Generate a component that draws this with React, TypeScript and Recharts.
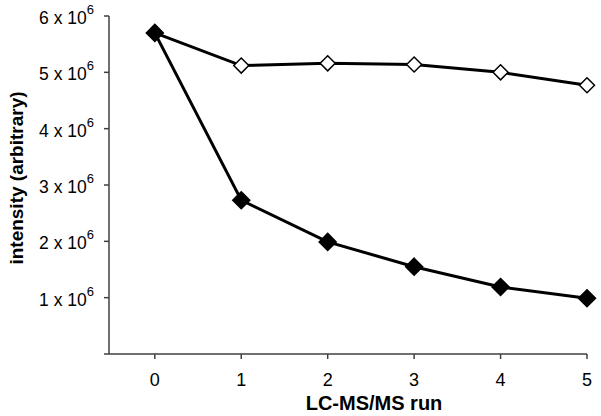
import React from "react";
import { LineChart, Line, XAxis, YAxis } from "recharts";

const runs = [0, 1, 2, 3, 4, 5];
const filledSeries = [5.7, 2.73, 1.99, 1.55, 1.19, 0.99];
const openSeries = [5.7, 5.12, 5.16, 5.14, 5.0, 4.77];
const yTicks = [0, 1, 2, 3, 4, 5, 6];

const data = runs.map((r, i) => ({ run: r, filled: filledSeries[i], open: openSeries[i] }));

const FONT = "'Liberation Sans', Arial, sans-serif";

const Diamond = (fill: string, r: number) => (props: any) => {
  const { cx, cy, index } = props;
  if (cx == null || cy == null) return <g key={index} />;
  return (
    <path
      key={index}
      d={`M${cx},${cy - r} L${cx + r},${cy} L${cx},${cy + r} L${cx - r},${cy} Z`}
      fill={fill}
      stroke="#000"
      strokeWidth={1.5}
    />
  );
};

const YTick = (props: any) => {
  const { x, y, payload } = props;
  if (payload.value === 0) return <g />;
  return (
    <text x={x - 8} y={y + 8} textAnchor="end" fontFamily={FONT} fontSize={17.5} fill="#000">
      <tspan>{`${payload.value} x 10`}</tspan>
      <tspan fontSize={13} dy={-10}>6</tspan>
    </text>
  );
};

const XTick = (props: any) => {
  const { x, y, payload } = props;
  return (
    <text x={x} y={y + 25} textAnchor="middle" fontFamily={FONT} fontSize={18} fill="#000">
      {payload.value}
    </text>
  );
};

const XLabel = (props: any) => {
  const vb = props.viewBox || { x: 109, width: 478 };
  return (
    <text x={vb.x + vb.width / 2 + 26} y={410} textAnchor="middle" fontFamily={FONT} fontSize={20} fontWeight="bold" fill="#000">
      LC-MS/MS run
    </text>
  );
};

const YLabel = () => (
  <text x={23} y={178} transform="rotate(-90, 23, 178)" textAnchor="middle" fontFamily={FONT} fontSize={19} fontWeight="bold" fill="#000">
    intensity (arbitrary)
  </text>
);

export default function App() {
  return (
    <div style={{ position: "absolute", left: 0, top: 0 }}>
      <LineChart width={601} height={416} data={data} margin={{ top: 16, right: 14, bottom: 0, left: 0 }}>
        <XAxis
          dataKey="run"
          type="number"
          domain={[-0.53, 5]}
          ticks={runs}
          height={62}
          stroke="#404040"
          strokeWidth={1.5}
          tickSize={5}
          tick={<XTick />}
          label={<XLabel />}
        />
        <YAxis
          type="number"
          domain={[0, 6]}
          ticks={yTicks}
          width={109}
          stroke="#404040"
          strokeWidth={1.5}
          tickSize={5}
          tick={<YTick />}
          label={<YLabel />}
        />
        <Line
          dataKey="open"
          stroke="#000"
          strokeWidth={3}
          isAnimationActive={false}
          dot={Diamond("#fff", 7.5)}
        />
        <Line
          dataKey="filled"
          stroke="#000"
          strokeWidth={3}
          isAnimationActive={false}
          dot={Diamond("#000", 8.5)}
        />
      </LineChart>
    </div>
  );
}
